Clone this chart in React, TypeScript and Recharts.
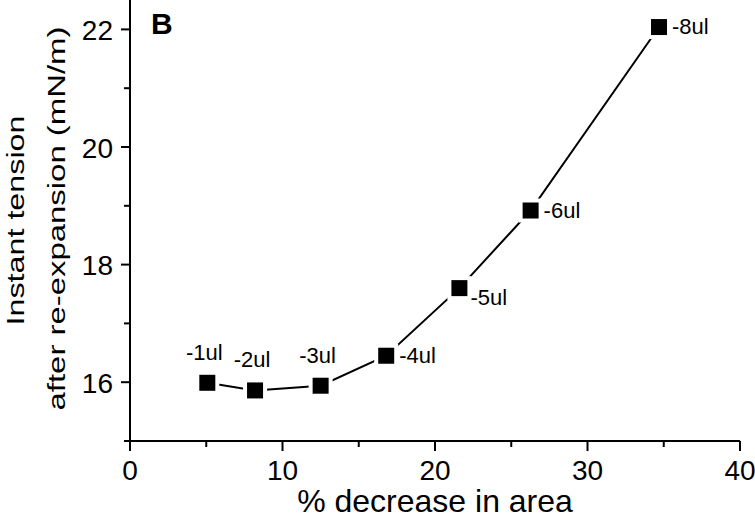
import React from "react";
import { LineChart, Line, XAxis, YAxis, LabelList, Customized } from "recharts";

const pointLabels = ["-1ul", "-2ul", "-3ul", "-4ul", "-5ul", "-6ul", "-8ul"];
const areaDecrease = [5.07, 8.2, 12.5, 16.8, 21.6, 26.27, 34.69];
const instantTension = [15.99, 15.86, 15.94, 16.45, 17.6, 18.92, 22.04];
const labelPlacement = ["top", "top", "top", "right", "lowRight", "right", "right"];

const xTicks = [0, 5, 10, 15, 20, 25, 30, 35, 40];
const yTicks = [15, 16, 17, 18, 19, 20, 21, 22];

const data = pointLabels.map((label, i) => ({
  x: areaDecrease[i],
  y: instantTension[i],
  label,
}));

const FONT = "'Liberation Sans', Arial, Helvetica, sans-serif";

const XTick = (props: any) => {
  const { x, y, payload } = props;
  const major = payload.value % 10 === 0;
  return (
    <g>
      <line x1={x} x2={x} y1={y} y2={y + (major ? 10 : 6)} stroke="#000" strokeWidth={2} />
      {major && (
        <text x={x} y={y + 39} textAnchor="middle" fontSize={28} fill="#000" fontFamily={FONT}>
          {payload.value}
        </text>
      )}
    </g>
  );
};

const YTick = (props: any) => {
  const { x, y, payload } = props;
  const major = payload.value % 2 === 0;
  return (
    <g>
      <line x1={x - (major ? 9 : 6)} x2={x} y1={y} y2={y} stroke="#000" strokeWidth={2} />
      {major && (
        <text x={x - 17} y={y + 10.5} textAnchor="end" fontSize={28} fill="#000" fontFamily={FONT}>
          {payload.value}
        </text>
      )}
    </g>
  );
};

const SquareDot = (props: any) => {
  const { cx, cy, index } = props;
  if (cx == null || cy == null) return null;
  return (
    <g key={`dot-${index}`}>
      <rect x={cx - 12} y={cy - 12} width={24} height={24} fill="#fff" />
      <rect x={cx - 8} y={cy - 8} width={16} height={16} fill="#000" />
    </g>
  );
};

const PointLabel = (props: any) => {
  const { x, y, value, index } = props;
  const place = labelPlacement[index];
  let tx = x + 13;
  let ty = y + 7;
  let anchor: any = "start";
  if (place === "top") {
    tx = x - 3;
    ty = y - 23;
    anchor = "middle";
  } else if (place === "lowRight") {
    tx = x + 11;
    ty = y + 17;
  }
  return (
    <text x={tx} y={ty} textAnchor={anchor} fontSize={22} fill="#000" fontFamily={FONT}>
      {value}
    </text>
  );
};

const YTitle = (props: any) => {
  const vb = props.viewBox || { x: 0, y: 0, width: 130, height: 441 };
  const cy = vb.y + vb.height / 2;
  const x1 = vb.x + 23.5;
  const x2 = vb.x + 65;
  return (
    <g>
      <text
        x={x1}
        y={cy}
        transform={`rotate(-90 ${x1} ${cy})`}
        textAnchor="middle"
        fontSize={23}
        fill="#000"
        fontFamily={FONT}
        textLength={210}
        lengthAdjust="spacingAndGlyphs"
      >
        Instant tension
      </text>
      <text
        x={x2}
        y={cy - 2}
        transform={`rotate(-90 ${x2} ${cy - 2})`}
        textAnchor="middle"
        fontSize={23}
        fill="#000"
        fontFamily={FONT}
        textLength={384}
        lengthAdjust="spacingAndGlyphs"
      >
        after re-expansion (mN/m)
      </text>
    </g>
  );
};

const XTitle = (props: any) => {
  const vb = props.viewBox || { x: 130, y: 441, width: 610, height: 78 };
  return (
    <text
      x={vb.x + vb.width / 2}
      y={vb.y + 71}
      textAnchor="middle"
      fontSize={32}
      fill="#000"
      fontFamily={FONT}
    >
      % decrease in area
    </text>
  );
};

const PanelLetter = () => (
  <text x={151} y={34} fontSize={30} fontWeight="bold" fill="#000" fontFamily={FONT}>
    B
  </text>
);

export default function App() {
  return (
    <div style={{ position: "absolute", left: 0, top: 0, width: 755, height: 519, background: "#fff" }}>
      <LineChart
        width={755}
        height={519}
        data={data}
        margin={{ top: 0, right: 15, bottom: 0, left: 0 }}
        style={{ fontFamily: FONT }}
      >
        <XAxis
          type="number"
          dataKey="x"
          domain={[0, 40]}
          ticks={xTicks}
          interval={0}
          height={78}
          tickSize={0}
          tickMargin={0}
          tickLine={false}
          axisLine={{ stroke: "#000", strokeWidth: 2 }}
          tick={<XTick />}
          label={{ content: <XTitle /> }}
        />
        <YAxis
          type="number"
          dataKey="y"
          domain={[15, 22.5]}
          ticks={yTicks}
          interval={0}
          width={130}
          tickSize={0}
          tickMargin={0}
          tickLine={false}
          axisLine={{ stroke: "#000", strokeWidth: 2 }}
          tick={<YTick />}
          label={{ content: <YTitle /> }}
          allowDataOverflow
        />
        <Line
          dataKey="y"
          stroke="#000"
          strokeWidth={2}
          isAnimationActive={false}
          dot={<SquareDot />}
          activeDot={false}
        >
          <LabelList dataKey="label" content={<PointLabel />} />
        </Line>
        <Customized component={PanelLetter} />
      </LineChart>
    </div>
  );
}
